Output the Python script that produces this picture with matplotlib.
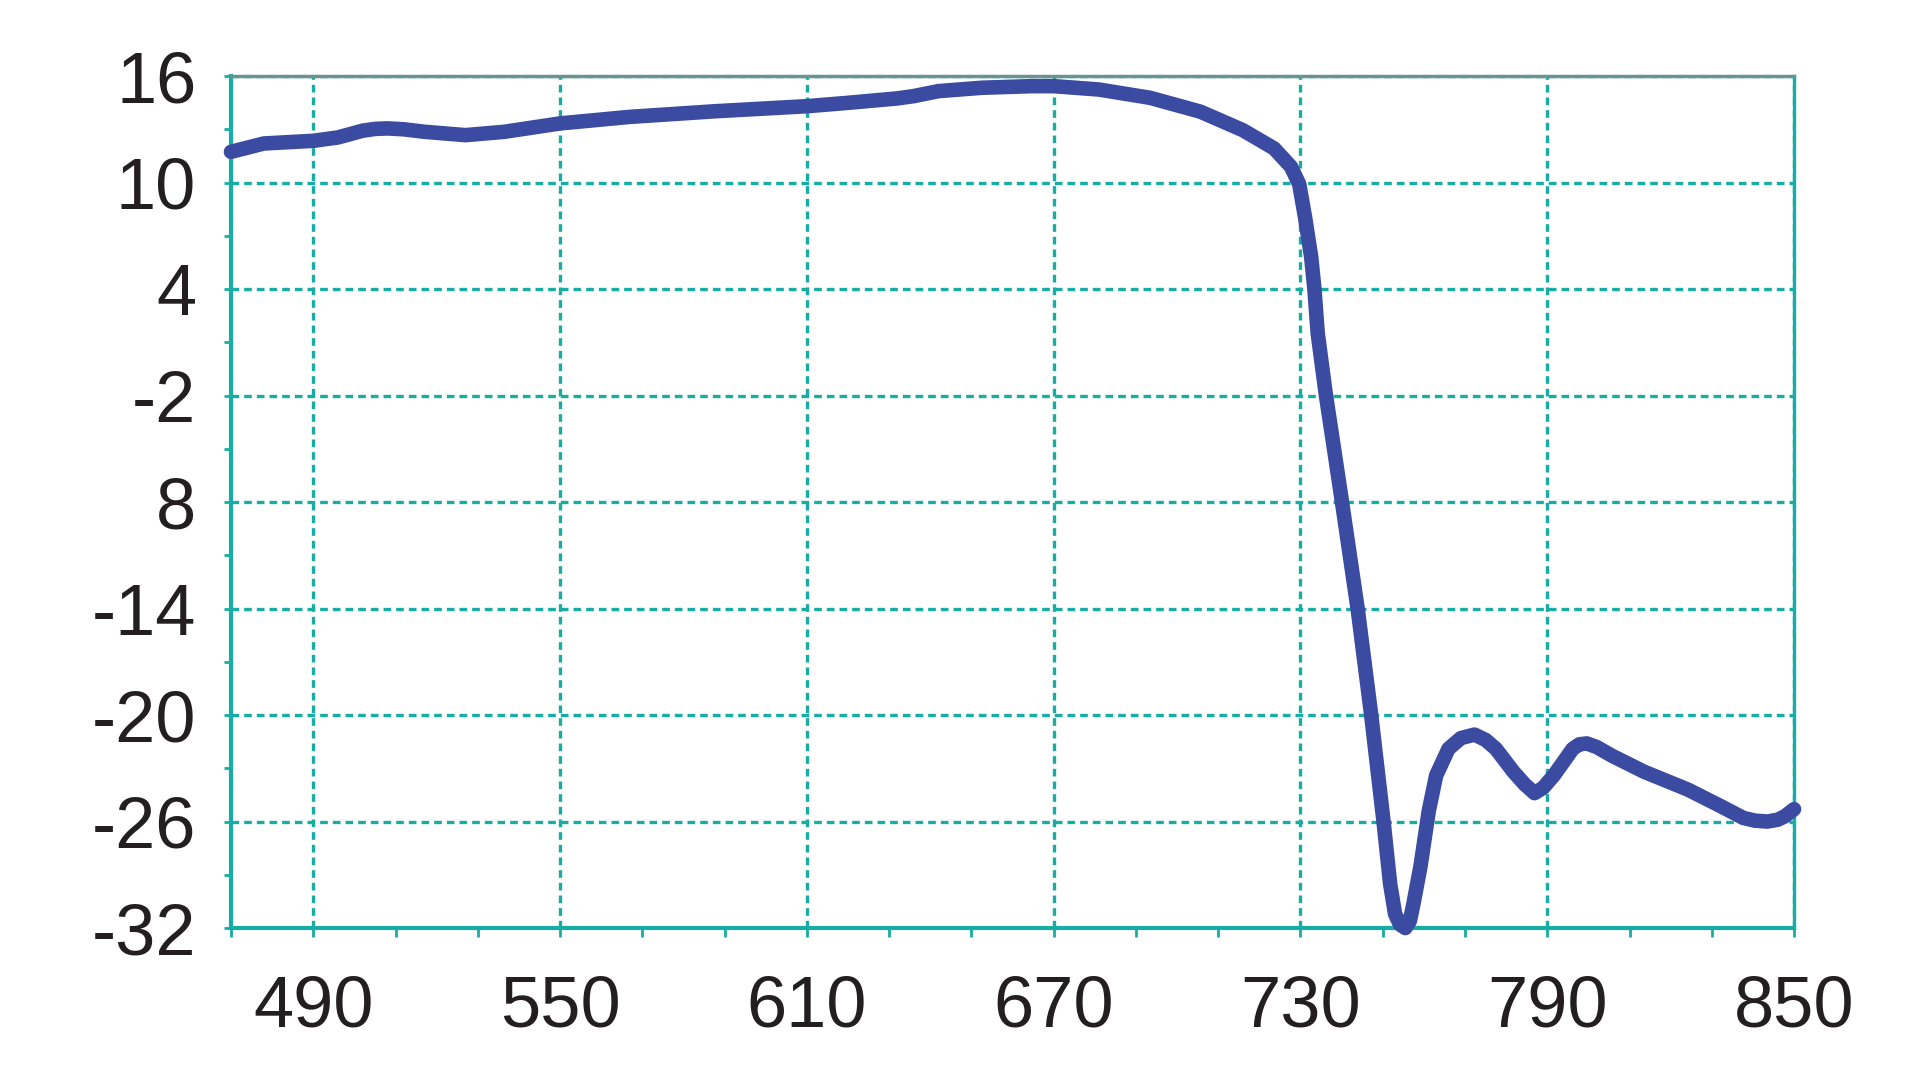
import matplotlib
matplotlib.use("Agg")
import matplotlib.pyplot as plt
import numpy as np

# wavelength (nm) and response
wavelength = [470, 478, 486, 490, 496, 502, 505, 508, 512, 517, 527, 536.5, 550, 567,
              588, 610, 620, 632, 636, 642, 652.6, 664.7, 670, 681, 693.5, 705.7,
              716, 723.6, 727.7, 729.7, 731.1, 732.6, 733.4, 734.2, 736.2, 738.2,
              740.1, 743.9, 747.2, 750.2, 751.8, 753, 754.2, 755.5, 756.6, 757.5,
              759.2, 761.2, 763, 766, 769, 772.3, 775, 777.5, 781.8, 784.5, 786.9,
              789, 791.6, 796.2, 797.8, 799.6, 802, 805.8, 813.6, 824.2, 831.9,
              837.7, 840.5, 843.5, 846, 847.8, 850]
response = [11.73, 12.2, 12.3, 12.35, 12.54, 12.92, 13.02, 13.05, 13.0, 12.86, 12.67,
            12.86, 13.33, 13.7, 14.02, 14.3, 14.49, 14.74, 14.87, 15.15, 15.34, 15.43,
            15.43, 15.24, 14.77, 13.99, 12.95, 11.92, 10.89, 9.91, 8.07, 5.82, 4.0,
            1.5, -2, -5.06, -8, -14, -20, -26, -29.5, -31.2, -31.8, -32, -31.6, -30.6,
            -28.5, -25.4, -23.4, -21.9, -21.3, -21.1, -21.4, -21.9, -23.2, -23.9,
            -24.4, -24.1, -23.4, -21.9, -21.65, -21.6, -21.8, -22.3, -23.2, -24.2,
            -25.1, -25.8, -25.95, -26.0, -25.9, -25.7, -25.3]

x_labels = [490, 550, 610, 670, 730, 790, 850]
x_minor = list(range(470, 851, 20))
y_ticks = [16, 10, 4, -2, -8, -14, -20, -26, -32]
y_labels = ['16', '10', '4', '-2', '8', '-14', '-20', '-26', '-32']
y_minor = list(range(-32, 17, 3))

teal = '#17ADA5'
blue = '#3B4BA1'
text_col = '#231F20'

plt.rcParams['font.family'] = ['Liberation Sans', 'DejaVu Sans']
plt.rcParams['axes.unicode_minus'] = False

fig = plt.figure(figsize=(19.2, 10.8), dpi=100)
ax = fig.add_axes([0.1203, 0.1407, 0.8141, 0.7889])

ax.set_xlim(470, 850)
ax.set_ylim(-32, 16)

ax.set_xticks(x_labels)
ax.set_xticklabels([str(v) for v in x_labels])
ax.set_xticks(x_minor, minor=True)
ax.set_yticks(y_ticks)
ax.set_yticklabels(y_labels)
ax.set_yticks(y_minor, minor=True)

ax.grid(True, which='major', color=teal, linewidth=2.4, linestyle=(0, (2.3, 1.5)))
ax.set_axisbelow(True)

ax.tick_params(axis='x', which='both', direction='out', length=6.5, width=2,
               color=teal, labelsize=52, labelcolor=text_col, pad=27)
ax.tick_params(axis='y', which='both', direction='out', length=5, width=2,
               color=teal, labelsize=52, labelcolor=text_col, pad=20)

for side in ['left', 'bottom']:
    ax.spines[side].set_color(teal)
    ax.spines[side].set_linewidth(3)
ax.spines['right'].set_color(teal)
ax.spines['right'].set_linewidth(2.4)
ax.spines['top'].set_color('#6A9490')
ax.spines['top'].set_linewidth(2.5)

ax.plot(wavelength, response, color=blue, linewidth=10.5, solid_joinstyle='round',
        solid_capstyle='round', clip_on=False, zorder=5)

plt.savefig("out.png", dpi=100)
